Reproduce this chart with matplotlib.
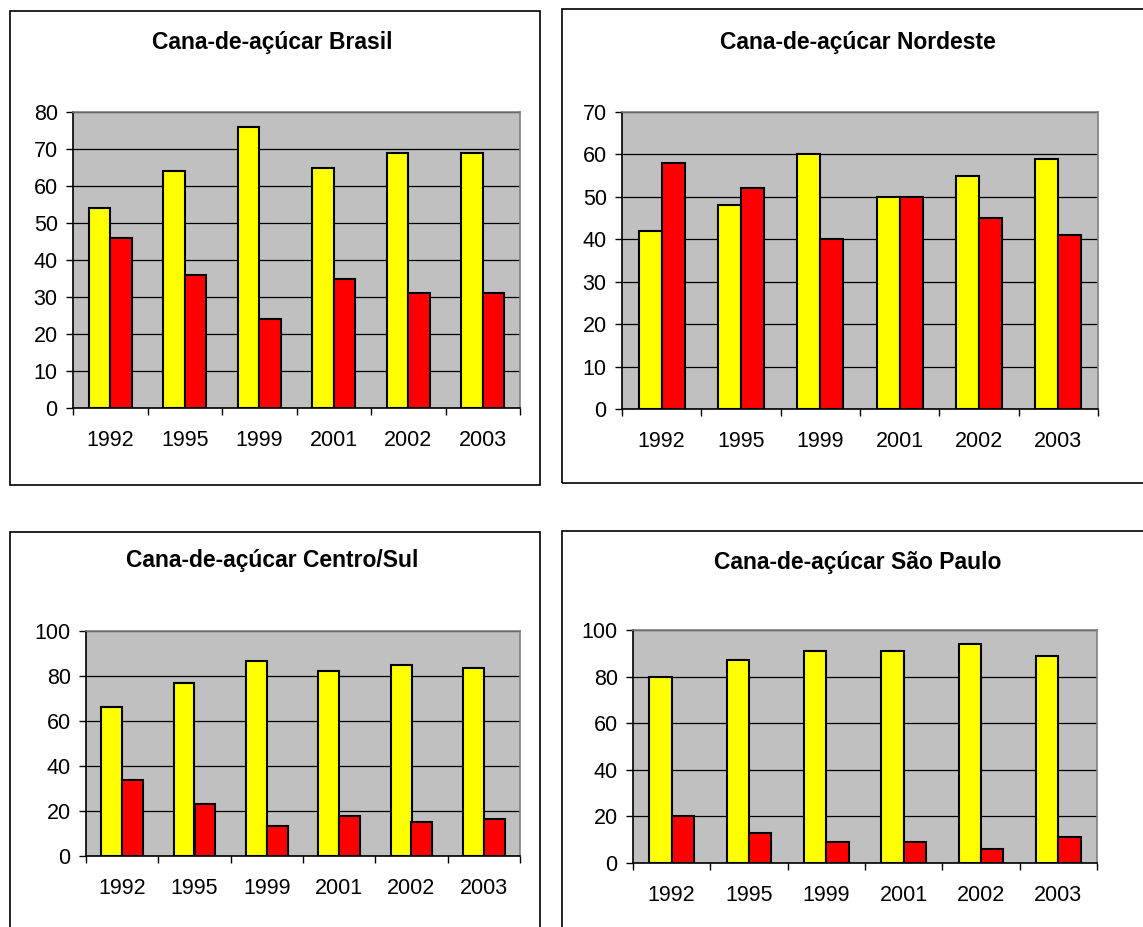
import matplotlib
matplotlib.use("Agg")
import matplotlib.pyplot as plt
from matplotlib.patches import Rectangle
import numpy as np

plt.rcParams['font.family'] = ['Liberation Sans', 'DejaVu Sans']

years = ["1992", "1995", "1999", "2001", "2002", "2003"]

brasil_yellow = [54, 64, 76, 65, 69, 69]
brasil_red = [46, 36, 24, 35, 31, 31]

nordeste_yellow = [42, 48, 60, 50, 55, 59]
nordeste_red = [58, 52, 40, 50, 45, 41]

centro_sul_yellow = [66.4, 77, 86.8, 82.4, 84.9, 83.4]
centro_sul_red = [33.6, 23, 13.2, 17.6, 15.1, 16.6]

sao_paulo_yellow = [80, 87, 91, 91, 94, 89]
sao_paulo_red = [20, 13, 9, 9, 6, 11]

W, H = 1143, 927
fig = plt.figure(figsize=(W / 100, H / 100), dpi=100)


def fx(px):
    return px / W


def fy(py):
    return 1 - py / H


def panel_box(x0, y0, x1, y1):
    fig.patches.append(Rectangle((fx(x0), fy(y1)), fx(x1) - fx(x0), fy(y0) - fy(y1),
                                 transform=fig.transFigure, fill=False,
                                 edgecolor="black", linewidth=1.2))


panels = [
    dict(title="Cana-de-açúcar Brasil", box=(10, 11, 540, 485), plot=(73, 112, 520, 408),
         ymax=80, step=10, y=brasil_yellow, r=brasil_red, ty=42),
    dict(title="Cana-de-açúcar Nordeste", box=(562, 9, 1160, 483), plot=(622, 112, 1098, 409),
         ymax=70, step=10, y=nordeste_yellow, r=nordeste_red, ty=42),
    dict(title="Cana-de-açúcar Centro/Sul", box=(10, 532, 540, 940), plot=(86, 631, 520, 856),
         ymax=100, step=20, y=centro_sul_yellow, r=centro_sul_red, ty=561),
    dict(title="Cana-de-açúcar São Paulo", box=(562, 531, 1160, 940), plot=(633, 630, 1097, 863),
         ymax=100, step=20, y=sao_paulo_yellow, r=sao_paulo_red, ty=562),
]

bw = 0.29
for p in panels:
    panel_box(*p["box"])
    bx0, _, bx1, _ = p["box"]
    fig.text(fx((bx0 + bx1) / 2 - 3), fy(p["ty"]), p["title"], ha="center", va="center",
             fontsize=16.5, fontweight="bold")

    x0, y0, x1, y1 = p["plot"]
    ax = fig.add_axes([fx(x0), fy(y1), fx(x1) - fx(x0), fy(y0) - fy(y1)])
    ax.set_facecolor("#C0C0C0")
    x = np.arange(len(years))
    ax.bar(x - bw / 2, p["y"], bw, color="#FFFF00", edgecolor="black", linewidth=1.5, zorder=3)
    ax.bar(x + bw / 2, p["r"], bw, color="#FF0000", edgecolor="black", linewidth=1.5, zorder=3)
    ax.set_xlim(-0.5, len(years) - 0.5)
    ax.set_ylim(0, p["ymax"])
    ax.set_yticks(np.arange(0, p["ymax"] + 1, p["step"]))
    ax.yaxis.grid(True, color="black", linewidth=0.9, zorder=1)
    ax.set_axisbelow(True)
    ax.set_xticks(np.arange(-0.5, len(years), 1.0))
    ax.set_xticklabels([])
    ax.set_xticks(x, minor=True)
    ax.set_xticklabels(years, minor=True)
    ax.tick_params(axis="x", which="major", length=5, width=1, direction="out")
    ax.tick_params(axis="x", which="minor", length=0, pad=16, labelsize=15.5)
    ax.tick_params(axis="y", length=5, width=1, direction="out", pad=6, labelsize=15.5)
    ax.spines["left"].set_color("black")
    ax.spines["bottom"].set_color("black")
    ax.spines["top"].set_color("#808080")
    ax.spines["right"].set_color("#808080")
    for s in ax.spines.values():
        s.set_linewidth(1.2)

fig.savefig("out.png", dpi=100)
